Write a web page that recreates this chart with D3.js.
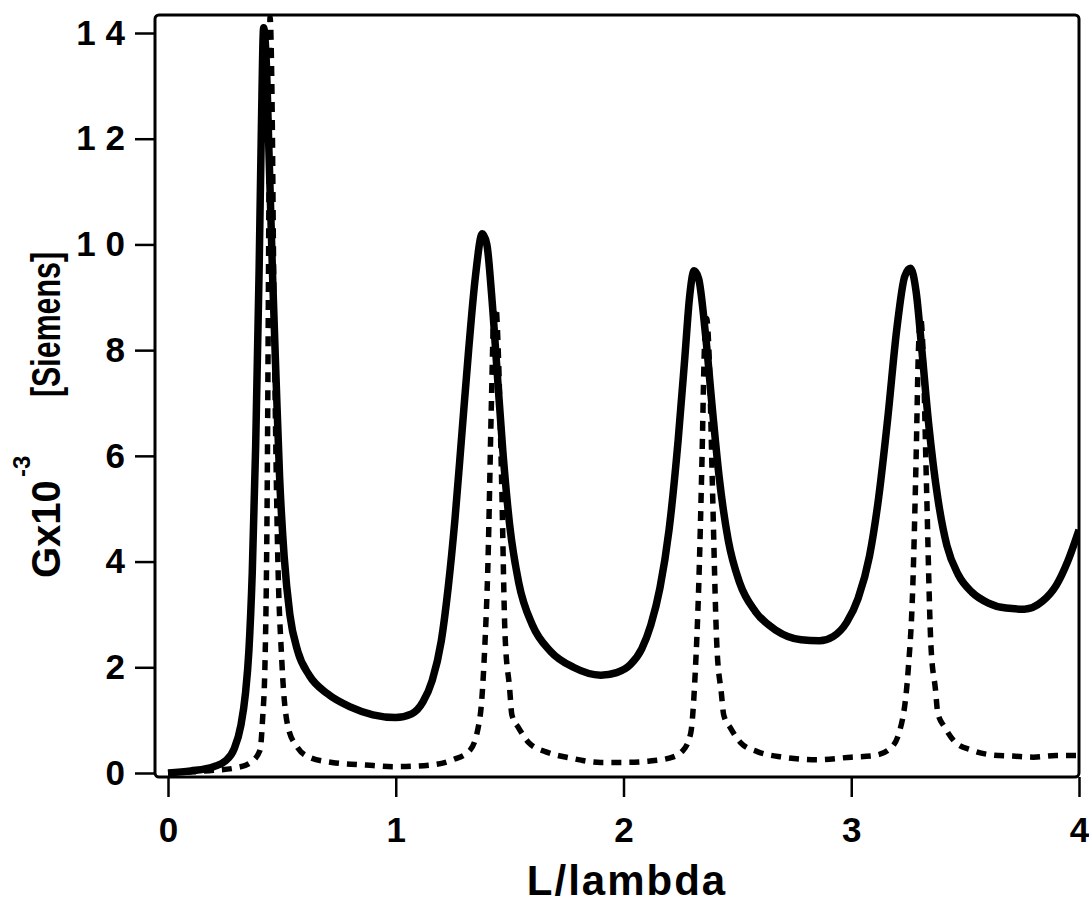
<!DOCTYPE html>
<html>
<head>
<meta charset="utf-8">
<script src="https://cdn.jsdelivr.net/npm/d3@7"></script>
<style>
body { margin: 0; background: #fff; }
text { font-family: "Liberation Sans", Arial, sans-serif; font-weight: bold; fill: #000; }
</style>
</head>
<body>
<script>
var w = 1089;
var h = 903;

var xTicks = [0, 1, 2, 3, 4];
var yTicks = [0, 2, 4, 6, 8, 10, 12, 14];

// solid curve
var lSolid = [0, 0.1, 0.2, 0.25, 0.29, 0.32, 0.34, 0.355, 0.37, 0.385, 0.4, 0.41, 0.42, 0.43, 0.445, 0.46, 0.475, 0.49, 0.51, 0.535, 0.57, 0.62, 0.7, 0.8, 0.9, 1.0,
    1.07, 1.12, 1.16, 1.2, 1.23, 1.26, 1.29, 1.32, 1.35, 1.38, 1.4, 1.42, 1.445, 1.47, 1.5, 1.54, 1.6, 1.68, 1.78, 1.9,
    1.97, 2.03, 2.08, 2.12, 2.16, 2.2, 2.24, 2.27, 2.29, 2.31, 2.33, 2.36, 2.39, 2.42, 2.46, 2.51, 2.58, 2.67, 2.78, 2.86,
    2.92, 2.98, 3.03, 3.08, 3.12, 3.16, 3.2, 3.235, 3.26, 3.285, 3.31, 3.34, 3.38, 3.42, 3.47, 3.53, 3.6, 3.68, 3.76, 3.84, 3.9, 3.95, 4.0];
var gSolid = [0, 0.04, 0.12, 0.22, 0.45, 0.9, 1.5, 2.3, 3.8, 6.2, 9.5, 12.2, 14.1, 13.6, 11.5, 9.3, 7.4, 5.6, 4.1, 3.0, 2.3, 1.85, 1.5, 1.25, 1.1, 1.05,
    1.12, 1.35, 1.75, 2.5, 3.5, 4.8, 6.4, 8.0, 9.4, 10.2, 10.0, 9.1, 7.6, 6.1, 4.7, 3.6, 2.8, 2.3, 2.0, 1.85,
    1.9, 2.05, 2.35, 2.8, 3.5, 4.6, 6.3, 7.9, 9.0, 9.5, 9.35, 8.3, 6.9, 5.6, 4.4, 3.6, 3.05, 2.7, 2.52, 2.5,
    2.58, 2.85, 3.3, 4.1, 5.2, 6.7, 8.4, 9.4, 9.55, 9.1, 8.0, 6.6, 5.2, 4.3, 3.75, 3.42, 3.22, 3.12, 3.1, 3.25, 3.55, 4.0, 4.6];

// dashed curve
var lDashed = [0, 0.1, 0.2, 0.3, 0.36, 0.404, 0.415, 0.426, 0.435, 0.442, 0.448, 0.456, 0.465, 0.48, 0.5, 0.527, 0.566, 0.62, 0.72, 0.87, 1.0, 1.15,
    1.25, 1.326, 1.37, 1.39, 1.405, 1.42, 1.43, 1.44, 1.45, 1.465, 1.48, 1.5, 1.51, 1.54, 1.585, 1.66, 1.77, 1.9, 2.0,
    2.1, 2.2, 2.26, 2.295, 2.315, 2.33, 2.345, 2.355, 2.365, 2.375, 2.39, 2.41, 2.43, 2.44, 2.47, 2.515, 2.59, 2.7, 2.85,
    3.0, 3.1, 3.17, 3.21, 3.25, 3.27, 3.285, 3.295, 3.305, 3.315, 3.33, 3.35, 3.37, 3.38, 3.41, 3.455, 3.53, 3.62, 3.71, 3.8, 3.9, 4.0];
var gDashed = [0, 0.02, 0.05, 0.1, 0.19, 0.43, 1.0, 2.1, 5, 10, 14.3, 13, 9, 4.5, 2.1, 0.87, 0.5, 0.3, 0.2, 0.15, 0.12, 0.15,
    0.25, 0.43, 1.06, 2.3, 4, 7, 8.6, 8.8, 8.0, 5.5, 2.6, 1.6, 1.1, 0.85, 0.57, 0.4, 0.28, 0.2, 0.2,
    0.22, 0.28, 0.42, 0.75, 1.9, 3.5, 6, 8.0, 8.6, 8.0, 5.5, 2.4, 1.5, 1.1, 0.85, 0.57, 0.4, 0.3, 0.25,
    0.3, 0.33, 0.46, 0.76, 1.95, 3.5, 6, 8.0, 8.6, 8.0, 5.5, 2.4, 1.57, 1.13, 0.87, 0.59, 0.43, 0.34, 0.32, 0.3, 0.33, 0.33];

var frameLeft = 155, frameRight = 1079, frameTop = 15, frameBottom = 777;

var xScale = d3.scaleLinear().domain([0, 4]).range([168, 1079]);
var yScale = d3.scaleLinear().domain([0, 14]).range([773, 33]);

var svg = d3.select("body")
    .append("svg")
    .attr("width", w)
    .attr("height", h);

svg.append("clipPath")
    .attr("id", "plot")
    .append("rect")
    .attr("x", frameLeft)
    .attr("y", frameTop)
    .attr("width", frameRight - frameLeft)
    .attr("height", frameBottom - frameTop);

var line = d3.line()
    .x(d => xScale(d[0]))
    .y(d => yScale(d[1]))
    .curve(d3.curveMonotoneX);

var dashed = lDashed.map((l, i) => [l, gDashed[i]]);
var solid = lSolid.map((l, i) => [l, gSolid[i]]);

svg.append("path")
    .datum(dashed)
    .attr("clip-path", "url(#plot)")
    .attr("d", line)
    .attr("fill", "none")
    .attr("stroke", "#000")
    .attr("stroke-width", 5.5)
    .attr("stroke-dasharray", "10,8");

svg.append("path")
    .datum(solid)
    .attr("clip-path", "url(#plot)")
    .attr("d", line)
    .attr("fill", "none")
    .attr("stroke", "#000")
    .attr("stroke-width", 7.5)
    .attr("stroke-linejoin", "round");

// frame
svg.append("rect")
    .attr("x", frameLeft)
    .attr("y", frameTop)
    .attr("width", frameRight - frameLeft)
    .attr("height", frameBottom - frameTop)
    .attr("rx", 4)
    .attr("fill", "none")
    .attr("stroke", "#000")
    .attr("stroke-width", 3);

var yAxis = d3.axisLeft(yScale)
    .tickValues(yTicks)
    .tickSize(20)
    .tickPadding(10)
    .tickFormat(d => d >= 10 ? String(d).split("").join(" ") : d);

var xAxis = d3.axisBottom(xScale)
    .tickValues(xTicks)
    .tickSize(20)
    .tickPadding(20)
    .tickFormat(d3.format("d"));

var gy = svg.append("g")
    .attr("transform", `translate(${frameLeft},0)`)
    .call(yAxis);
var gx = svg.append("g")
    .attr("transform", `translate(0,${frameBottom})`)
    .call(xAxis);

[gx, gy].forEach(g => {
    g.select(".domain").remove();
    g.selectAll("line").attr("stroke", "#000").attr("stroke-width", 2.5);
    g.selectAll("text")
        .attr("fill", "#000")
        .style("font-family", "'Liberation Sans', Arial, sans-serif")
        .style("font-weight", "bold")
        .style("font-size", "35px");
});

svg.append("text")
    .attr("x", 627)
    .attr("y", 895)
    .attr("text-anchor", "middle")
    .style("font-size", "42px")
    .style("letter-spacing", "2px")
    .text("L/lambda");

svg.append("text")
    .attr("transform", "translate(60,578) rotate(-90)")
    .style("font-size", "40px")
    .text("Gx10");
svg.append("text")
    .attr("transform", "translate(30,477) rotate(-90)")
    .style("font-size", "24px")
    .text("-3");
svg.append("text")
    .attr("transform", "translate(60,397) rotate(-90)")
    .style("font-size", "40px")
    .attr("textLength", 145)
    .attr("lengthAdjust", "spacingAndGlyphs")
    .text("[Siemens]");
</script>
</body>
</html>
